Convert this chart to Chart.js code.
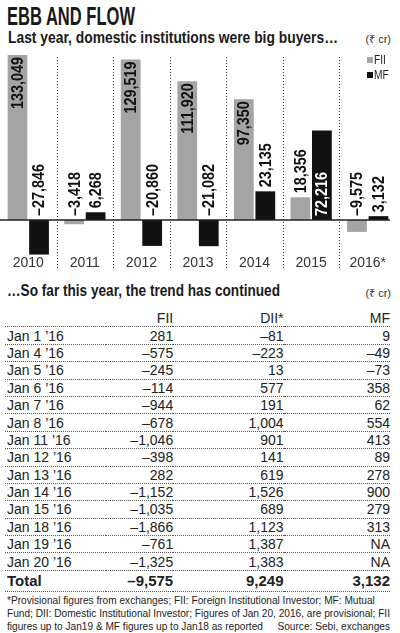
<!DOCTYPE html>
<html>
<head>
<meta charset="utf-8">
<script src="https://cdn.jsdelivr.net/npm/chart.js@4.4.1/dist/chart.umd.min.js"></script>
<style>
  body { margin: 0; width: 400px; height: 633px; overflow: hidden; position: relative; background: #fff; color: #1a1a1a;
         font-family: "Liberation Sans", sans-serif; }
  .abs { position: absolute; white-space: nowrap; transform-origin: left top; }
  #title { left: 7px; top: 4px; font-size: 25px; line-height: 25px; font-weight: bold; }
  #sub { left: 8px; top: 30px; font-size: 16px; line-height: 16px; font-weight: bold; }
  #sub2 { left: 7px; top: 283px; font-size: 16px; line-height: 16px; font-weight: bold; }
  .unit { right: 9px; font-size: 11px; line-height: 11px; color: #333; }
  #chartBox { position: absolute; left: 0; top: 46px; width: 400px; height: 226px; }
  #tbl { position: absolute; left: 5px; top: 310px; width: 385px; border-collapse: collapse;
         font-size: 14px; color: #222; }
  #tbl td { height: 16.4px; padding: 0; line-height: 16px; border-bottom: 1px dotted #555; text-align: right; }
  #tbl td:first-child { text-align: left; padding-left: 2px; }
  #tbl tr.total td { height: 20px; font-weight: bold; font-size: 15px; border-top: 1px dotted #555; }
  #notes { left: 7px; top: 594px; font-size: 11px; line-height: 13px; color: #222; }
  #notes .row { display: flex; justify-content: space-between; }
</style>
</head>
<body>
<div id="title" class="abs">EBB AND FLOW</div>
<div id="sub" class="abs">Last year, domestic institutions were big buyers…</div>
<div class="abs unit" style="top:34px">(₹ cr)</div>
<div id="chartBox"><canvas id="c"></canvas></div>
<div id="sub2" class="abs">…So far this year, the trend has continued</div>
<div class="abs unit" style="top:288px">(₹ cr)</div>
<table id="tbl"></table>
<div id="notes" class="abs">
  <div><span class="nl">*Provisional figures from exchanges; FII: Foreign Institutional Investor; MF: Mutual</span></div>
  <div><span class="nl">Fund; DII: Domestic Institutional Investor; Figures of Jan 20, 2016, are provisional; FII</span></div>
  <div class="row"><span>figures up to Jan19 &amp; MF figures up to Jan18 as reported</span><span>Source: Sebi, exchanges</span></div>
</div>
<script>
// yearly flows, Rs crore
var years = ['2010', '2011', '2012', '2013', '2014', '2015', '2016*'];
var fiiYear = [133049, -3418, 129519, 111920, 97350, 18356, -9575];
var mfYear = [-27846, 6268, -20860, -21082, 23135, 72216, 3132];

// daily flows so far in 2016
var days = ['Jan 1 ’16', 'Jan 4 ’16', 'Jan 5 ’16', 'Jan 6 ’16', 'Jan 7 ’16', 'Jan 8 ’16', 'Jan 11 ’16',
            'Jan 12 ’16', 'Jan 13 ’16', 'Jan 14 ’16', 'Jan 15 ’16', 'Jan 18 ’16', 'Jan 19 ’16', 'Jan 20 ’16'];
var fiiDay = [281, -575, -245, -114, -944, -678, -1046, -398, 282, -1152, -1035, -1866, -761, -1325];
var diiDay = [-81, -223, 13, 577, 191, 1004, 901, 141, 619, 1526, 689, 1123, 1387, 1383];
var mfDay = [9, -49, -73, 358, 62, 554, 413, 89, 278, 900, 279, 313, null, null];
var tableHead = ['', 'FII', 'DII*', 'MF'];
var totals = ['Total', -9575, 9249, 3132];

var FONT = '"Liberation Sans", sans-serif';

function fmt(v) {
  if (v === null) return 'NA';
  if (typeof v === 'string') return v;
  return v.toLocaleString('en-US').replace('-', '–');
}

// squeeze headline text to the condensed widths of the original
function fitWidth(el, w) {
  var s = w / el.getBoundingClientRect().width;
  el.style.transform = 'scaleX(' + s + ')';
  return s;
}
fitWidth(document.getElementById('title'), 128);
fitWidth(document.getElementById('sub'), 330);
fitWidth(document.getElementById('sub2'), 273);

var notes = document.getElementById('notes');
var widest = 0;
notes.querySelectorAll('.nl').forEach(function(s) { widest = Math.max(widest, s.getBoundingClientRect().width); });
var ns = 383 / widest;
notes.style.width = widest + 'px';
notes.style.transform = 'scaleX(' + ns + ')';

// build the table
var tbl = document.getElementById('tbl');
function addRow(cells, cls) {
  var tr = document.createElement('tr');
  if (cls) tr.className = cls;
  cells.forEach(function(c) {
    var td = document.createElement('td');
    td.textContent = fmt(c);
    tr.appendChild(td);
  });
  tbl.appendChild(tr);
}
var colW = ['100px', '67px', '111px', '107px'];
addRow(tableHead);
tbl.rows[0].querySelectorAll('td').forEach(function(td, i) { td.style.width = colW[i]; });
for (var i = 0; i < days.length; i++) {
  addRow([days[i], fiiDay[i], diiDay[i], mfDay[i]]);
}
addRow(totals, 'total');

// dotted dividers between years + zero line
var dividers = {
  id: 'dividers',
  beforeDatasetsDraw: function(chart) {
    var ctx = chart.ctx, x = chart.scales.x, a = chart.chartArea;
    ctx.save();
    ctx.strokeStyle = '#333';
    ctx.lineWidth = 1;
    ctx.setLineDash([1, 2]);
    for (var i = 1; i < years.length; i++) {
      var px = Math.round((x.getPixelForValue(i - 1) + x.getPixelForValue(i)) / 2) + 0.5;
      ctx.beginPath();
      ctx.moveTo(px, a.top + 4);
      ctx.lineTo(px, chart.height - 2);
      ctx.stroke();
    }
    ctx.restore();
  },
  afterDatasetsDraw: function(chart) {
    var ctx = chart.ctx, a = chart.chartArea;
    var y0 = chart.scales.y.getPixelForValue(0);
    ctx.save();
    ctx.strokeStyle = '#222';
    ctx.lineWidth = 1.5;
    ctx.beginPath();
    ctx.moveTo(a.left, y0);
    ctx.lineTo(a.right - 6, y0);
    ctx.stroke();
    ctx.restore();
  }
};

// rotated value labels
var barLabels = {
  id: 'barLabels',
  afterDatasetsDraw: function(chart) {
    var ctx = chart.ctx;
    var base = chart.scales.y.getPixelForValue(0);
    ctx.save();
    ctx.font = 'bold 16px ' + FONT;
    ctx.textBaseline = 'middle';
    chart.data.datasets.forEach(function(ds, di) {
      chart.getDatasetMeta(di).data.forEach(function(bar, i) {
        var v = ds.data[i], y, align = 'left', color = '#111';
        if (v > 90000) { y = bar.y + 2; align = 'right'; }
        else if (v > 60000) { y = base - 4; color = '#fff'; }
        else { y = Math.min(bar.y, base) - 4; }
        ctx.save();
        ctx.translate(bar.x, y);
        ctx.rotate(-Math.PI / 2);
        ctx.scale(0.9, 1);
        ctx.textAlign = align;
        ctx.fillStyle = color;
        ctx.fillText(fmt(v), 0, 1);
        ctx.restore();
      });
    });
    ctx.restore();
  }
};

// small legend top right
var cornerLegend = {
  id: 'cornerLegend',
  afterDraw: function(chart) {
    var ctx = chart.ctx;
    ctx.save();
    ctx.font = '12px ' + FONT;
    ctx.textBaseline = 'middle';
    chart.data.datasets.forEach(function(ds, i) {
      var y = 11 + i * 15;
      ctx.fillStyle = ds.backgroundColor;
      ctx.fillRect(367, y, 6, 6);
      ctx.fillStyle = '#222';
      ctx.save();
      ctx.translate(374, y + 3.5);
      ctx.scale(0.85, 1);
      ctx.fillText(ds.label, 0, 0);
      ctx.restore();
    });
    ctx.restore();
  }
};

new Chart(document.getElementById('c').getContext('2d'), {
  type: 'bar',
  data: {
    labels: years,
    datasets: [
      { label: 'FII', data: fiiYear, backgroundColor: '#a4a4a4', categoryPercentage: 0.76, barPercentage: 0.92 },
      { label: 'MF', data: mfYear, backgroundColor: '#111111', categoryPercentage: 0.76, barPercentage: 0.92 }
    ]
  },
  options: {
    responsive: true,
    maintainAspectRatio: false,
    animation: false,
    layout: { padding: { top: 7, right: 4, left: 0, bottom: 0 } },
    plugins: { legend: { display: false }, tooltip: { enabled: false } },
    scales: {
      x: {
        grid: { display: false },
        border: { display: false },
        ticks: { color: '#333', padding: -8, maxRotation: 0, font: { family: FONT, size: 14 } },
        afterFit: function(s) { s.height = 17; }
      },
      y: { display: false, min: -28200, max: 134700 }
    }
  },
  plugins: [dividers, barLabels, cornerLegend]
});
</script>
</body>
</html>
